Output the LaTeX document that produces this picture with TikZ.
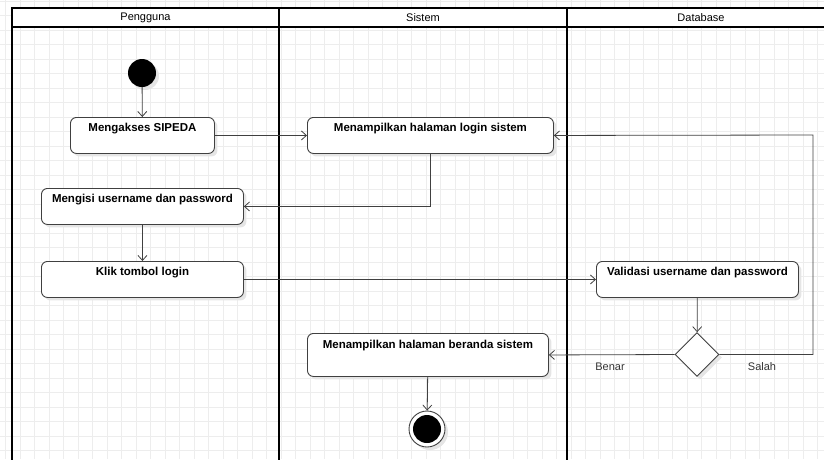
\documentclass[tikz,border=0pt]{standalone}
\usepackage{fontspec}
\setmainfont{Liberation Sans}
\usetikzlibrary{arrows.meta,shapes.geometric,shadows}

\begin{document}
\begin{tikzpicture}[x=1pt,y=-1pt,
    activity/.style={draw=black!75, fill=white, rounded corners=6pt, line width=0.9pt,
        font=\bfseries\fontsize{11.5}{13}\selectfont, inner xsep=4pt, inner ysep=3pt,
        text height=11.5pt, text depth=18.5pt, anchor=north west,
        drop shadow={shadow xshift=3pt, shadow yshift=-3pt, fill=black!10, opacity=1}},
    decision/.style={draw=black!75, fill=white, diamond, line width=0.9pt, inner sep=0pt,
        minimum width=44pt, minimum height=44pt,
        drop shadow={shadow xshift=3pt, shadow yshift=-3pt, fill=black!10, opacity=1}},
    flow/.style={draw=black!75, line width=0.8pt, -{Straight Barb[length=5pt,width=9pt]}},
    lanetext/.style={font=\fontsize{11}{13}\selectfont},
    guard/.style={font=\fontsize{11}{13}\selectfont, text=black!80}]
    \useasboundingbox (0,0) rectangle (824,459);
    \clip (0,0) rectangle (824,459);

    % background grid
    \foreach \i in {0,...,57} {
        \draw[black!7, line width=0.6pt] (5.5+14.5*\i,0) -- (5.5+14.5*\i,459);
    }
    \foreach \j in {0,...,32} {
        \draw[black!7, line width=0.6pt] (0,0.8+14.5*\j) -- (824,0.8+14.5*\j);
    }

    % swimlanes
    \fill[white] (12,8) rectangle (840,27);
    \draw[line width=1.6pt] (840,8) -- (12,8) -- (12,470);
    \draw[line width=1.6pt] (12,27) -- (840,27);
    \draw[line width=1.6pt] (279,8) -- (279,470);
    \draw[line width=1.6pt] (567,8) -- (567,470);
    \node[lanetext] (pengguna) at (145.5,17.5) {Pengguna};
    \node[lanetext] (sistem) at (423,17.5) {Sistem};
    \node[lanetext] (database) at (701,17.5) {Database};

    % states
    \fill[black!10] (145,76) circle (14);
    \node[circle, fill=black, minimum size=28pt, inner sep=0pt] (mulai) at (142,73) {};

    \node[activity, minimum width=144pt] (akses) at (70,117) {Mengakses SIPEDA};
    \node[activity, minimum width=246pt] (login) at (307,117) {Menampilkan halaman login sistem};
    \node[activity, minimum width=202pt] (mengisi) at (41,188) {Mengisi username dan password};
    \node[activity, minimum width=202pt] (klik) at (41,261) {Klik tombol login};
    \node[activity, minimum width=202pt] (validasi) at (596,261) {Validasi username dan password};
    \node[activity, minimum width=241pt, text height=12.5pt, text depth=24.5pt] (beranda) at (307,333) {Menampilkan halaman beranda sistem};
    \node[decision] (cek) at (697,354.5) {};

    \fill[black!10] (430,432) circle (18);
    \node[circle, draw=black!75, fill=white, line width=0.9pt, minimum size=36pt, inner sep=0pt] (selesai) at (427,429) {};
    \fill[black] (selesai.center) circle (14);

    \coordinate (balik) at (813,135);

    % flows
    \draw[flow] (mulai) -- (akses);
    \draw[flow] (akses) -- (login);
    \draw[flow] (login.south) |- (mengisi.east);
    \draw[flow] (mengisi) -- (klik);
    \draw[flow] (klik) -- (validasi);
    \draw[flow] (validasi) -- (cek);
    \draw[flow] (cek.west) -- (beranda.east);
    \draw[flow] (cek.east) -| (balik) -- (login.east);
    \draw[flow] (beranda) -- (selesai);

    \node[guard] (benar) at (610,366.5) {Benar};
    \node[guard] (salah) at (762,366.5) {Salah};
\end{tikzpicture}
\end{document}
